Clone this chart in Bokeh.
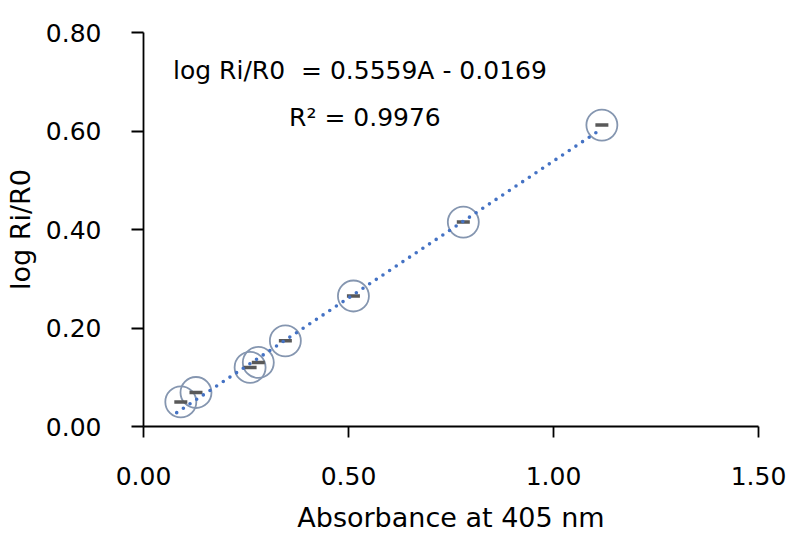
from bokeh.plotting import figure
from bokeh.models import FixedTicker, NumeralTickFormatter, Range1d, Label, ColumnDataSource
from bokeh.embed import file_html
from bokeh.resources import INLINE

# Data
absorbance = [0.091, 0.128, 0.260, 0.280, 0.346, 0.512, 0.780, 1.118]
log_ratio = [0.050, 0.069, 0.120, 0.130, 0.174, 0.265, 0.415, 0.612]
slope = 0.5559
intercept = -0.0169
r_squared = 0.9976
x_ticks = [0.0, 0.5, 1.0, 1.5]
y_ticks = [0.0, 0.2, 0.4, 0.6, 0.8]

FONT = "DejaVu Sans"

p = figure(width=787, height=535, output_backend="svg", toolbar_location=None,
           x_range=Range1d(0, 1.5), y_range=Range1d(0, 0.8),
           min_border_left=143, min_border_right=29, min_border_top=32, min_border_bottom=108)
p.outline_line_color = None
p.grid.visible = False
p.background_fill_color = "white"
p.border_fill_color = "white"

src = ColumnDataSource(dict(x=absorbance, y=log_ratio))

# highlight circles
p.scatter("x", "y", source=src, marker="circle", size=31, fill_alpha=0,
          line_color="#8596B0", line_width=1.8)
# dash markers
p.scatter("x", "y", source=src, marker="dash", size=13, line_color="#595959", line_width=3.5)

# linear trendline using the stated equation
x0 = min(absorbance) - 0.01
x1 = max(absorbance)
p.line([x0, x1], [slope * x0 + intercept, slope * x1 + intercept],
       line_color="#4472C4", line_width=3.6, line_dash="0 8", line_cap="round")

for ax in (p.xaxis[0], p.yaxis[0]):
    ax.axis_line_color = "black"
    ax.axis_line_width = 1.8
    ax.major_tick_line_color = "black"
    ax.major_tick_line_width = 1.8
    ax.minor_tick_line_color = None
    ax.major_tick_in = 0
    ax.major_label_text_font = FONT
    ax.major_label_text_font_size = "25px"
    ax.major_label_text_color = "black"
    ax.axis_label_text_font = FONT
    ax.axis_label_text_font_size = "27px"
    ax.axis_label_text_font_style = "normal"
    ax.axis_label_text_color = "black"
    ax.major_label_text_font_style = "normal"

p.xaxis.ticker = FixedTicker(ticks=x_ticks)
p.yaxis.ticker = FixedTicker(ticks=y_ticks)
p.xaxis.formatter = NumeralTickFormatter(format="0.00")
p.yaxis.formatter = NumeralTickFormatter(format="0.00")
p.xaxis.major_tick_out = 11
p.yaxis.major_tick_out = 12
p.yaxis.major_label_standoff = 30
p.xaxis.major_label_standoff = 29
p.xaxis.axis_label = "Absorbance at 405 nm"
p.yaxis.axis_label = "log Ri/R0"
p.xaxis.axis_label_standoff = 14
p.yaxis.axis_label_standoff = 7

p.add_layout(Label(x=0.072, y=0.7235, text="log Ri/R0\u00a0 = 0.5559A - 0.0169",
                   text_font=FONT, text_font_size="25px", text_color="black",
                   text_baseline="alphabetic", text_align="left"))
p.add_layout(Label(x=0.54, y=0.628, text="R² = %.4f" % r_squared,
                   text_font=FONT, text_font_size="25px", text_color="black",
                   text_baseline="alphabetic", text_align="center"))

open("out.html", "w").write(file_html(p, INLINE))
